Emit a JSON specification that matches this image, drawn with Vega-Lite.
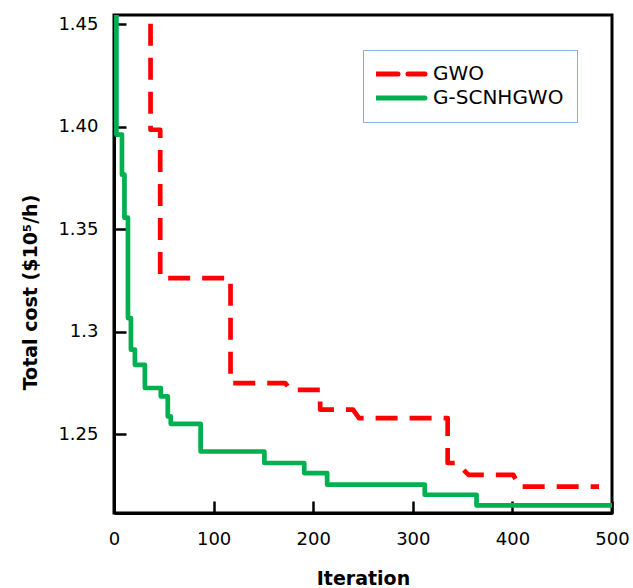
{
  "$schema": "https://vega.github.io/schema/vega-lite/v6.json",
  "width": 498,
  "height": 498,
  "autosize": {"type": "none"},
  "padding": {"left": 114, "top": 15, "right": 21, "bottom": 75},
  "background": "white",
  "config": {
    "view": {"stroke": "black", "strokeWidth": 3},
    "font": "DejaVu Sans"
  },
  "data": {
    "values": [
      {"algo": "GWO", "i": 0, "iter": 36.7, "cost": 1.5},
      {"algo": "GWO", "i": 1, "iter": 36.7, "cost": 1.3985},
      {"algo": "GWO", "i": 2, "iter": 46.4, "cost": 1.3985},
      {"algo": "GWO", "i": 3, "iter": 46.4, "cost": 1.3261},
      {"algo": "GWO", "i": 4, "iter": 117, "cost": 1.3261},
      {"algo": "GWO", "i": 5, "iter": 117, "cost": 1.2749},
      {"algo": "GWO", "i": 6, "iter": 172, "cost": 1.2749},
      {"algo": "GWO", "i": 7, "iter": 177, "cost": 1.2716},
      {"algo": "GWO", "i": 8, "iter": 207, "cost": 1.2716},
      {"algo": "GWO", "i": 9, "iter": 207, "cost": 1.2619},
      {"algo": "GWO", "i": 10, "iter": 240, "cost": 1.2619},
      {"algo": "GWO", "i": 11, "iter": 246, "cost": 1.2578},
      {"algo": "GWO", "i": 12, "iter": 335, "cost": 1.2578},
      {"algo": "GWO", "i": 13, "iter": 335, "cost": 1.2359},
      {"algo": "GWO", "i": 14, "iter": 344, "cost": 1.2359},
      {"algo": "GWO", "i": 15, "iter": 356, "cost": 1.2301},
      {"algo": "GWO", "i": 16, "iter": 401, "cost": 1.2301},
      {"algo": "GWO", "i": 17, "iter": 407, "cost": 1.2244},
      {"algo": "GWO", "i": 18, "iter": 487, "cost": 1.2244},

      {"algo": "G-SCNHGWO", "i": 0, "iter": 2.4, "cost": 1.5},
      {"algo": "G-SCNHGWO", "i": 1, "iter": 2.4, "cost": 1.3961},
      {"algo": "G-SCNHGWO", "i": 2, "iter": 8, "cost": 1.3961},
      {"algo": "G-SCNHGWO", "i": 3, "iter": 8, "cost": 1.3766},
      {"algo": "G-SCNHGWO", "i": 4, "iter": 10.5, "cost": 1.3766},
      {"algo": "G-SCNHGWO", "i": 5, "iter": 10.5, "cost": 1.3556},
      {"algo": "G-SCNHGWO", "i": 6, "iter": 14, "cost": 1.3556},
      {"algo": "G-SCNHGWO", "i": 7, "iter": 14, "cost": 1.3066},
      {"algo": "G-SCNHGWO", "i": 8, "iter": 17, "cost": 1.3066},
      {"algo": "G-SCNHGWO", "i": 9, "iter": 17, "cost": 1.2912},
      {"algo": "G-SCNHGWO", "i": 10, "iter": 21, "cost": 1.2912},
      {"algo": "G-SCNHGWO", "i": 11, "iter": 21, "cost": 1.2838},
      {"algo": "G-SCNHGWO", "i": 12, "iter": 31, "cost": 1.2838},
      {"algo": "G-SCNHGWO", "i": 13, "iter": 31, "cost": 1.2725},
      {"algo": "G-SCNHGWO", "i": 14, "iter": 47, "cost": 1.2725},
      {"algo": "G-SCNHGWO", "i": 15, "iter": 47, "cost": 1.2684},
      {"algo": "G-SCNHGWO", "i": 16, "iter": 54, "cost": 1.2684},
      {"algo": "G-SCNHGWO", "i": 17, "iter": 54, "cost": 1.2586},
      {"algo": "G-SCNHGWO", "i": 18, "iter": 57, "cost": 1.2586},
      {"algo": "G-SCNHGWO", "i": 19, "iter": 57, "cost": 1.2550},
      {"algo": "G-SCNHGWO", "i": 20, "iter": 87, "cost": 1.2550},
      {"algo": "G-SCNHGWO", "i": 21, "iter": 87, "cost": 1.2415},
      {"algo": "G-SCNHGWO", "i": 22, "iter": 151, "cost": 1.2415},
      {"algo": "G-SCNHGWO", "i": 23, "iter": 151, "cost": 1.2359},
      {"algo": "G-SCNHGWO", "i": 24, "iter": 191, "cost": 1.2359},
      {"algo": "G-SCNHGWO", "i": 25, "iter": 191, "cost": 1.2310},
      {"algo": "G-SCNHGWO", "i": 26, "iter": 214, "cost": 1.2310},
      {"algo": "G-SCNHGWO", "i": 27, "iter": 214, "cost": 1.2253},
      {"algo": "G-SCNHGWO", "i": 28, "iter": 312, "cost": 1.2253},
      {"algo": "G-SCNHGWO", "i": 29, "iter": 312, "cost": 1.2204},
      {"algo": "G-SCNHGWO", "i": 30, "iter": 364, "cost": 1.2204},
      {"algo": "G-SCNHGWO", "i": 31, "iter": 364, "cost": 1.2152},
      {"algo": "G-SCNHGWO", "i": 32, "iter": 500, "cost": 1.2152}
    ]
  },
  "encoding": {
    "x": {
      "field": "iter",
      "type": "quantitative",
      "scale": {"domain": [0, 500], "nice": false, "zero": false},
      "axis": {
        "title": "Iteration",
        "values": [0, 100, 200, 300, 400, 500],
        "grid": false,
        "domainColor": "black",
        "domainWidth": 3,
        "tickColor": "black",
        "tickWidth": 2.5,
        "tickSize": -12,
        "labelPadding": 29,
        "labelFlush": false,
        "labelFontSize": 18,
        "labelColor": "black",
        "labelFont": "DejaVu Sans",
        "titleFont": "DejaVu Sans",
        "titleFontSize": 19,
        "titleFontWeight": "bold",
        "titleColor": "black",
        "titlePadding": 21
      }
    },
    "y": {
      "field": "cost",
      "type": "quantitative",
      "scale": {"domain": [1.2115, 1.4545], "nice": false, "zero": false},
      "axis": {
        "title": "Total cost ($10⁵/h)",
        "values": [1.25, 1.3, 1.35, 1.4, 1.45],
        "labelExpr": "abs(datum.value - 1.3) < 0.001 ? '1.3' : format(datum.value, '.2f')",
        "grid": false,
        "domainColor": "black",
        "domainWidth": 3,
        "tickColor": "black",
        "tickWidth": 2.5,
        "tickSize": -12,
        "labelPadding": 28,
        "labelFlush": false,
        "labelFontSize": 18,
        "labelColor": "black",
        "labelFont": "DejaVu Sans",
        "titleFont": "DejaVu Sans",
        "titleFontSize": 19,
        "titleFontWeight": "bold",
        "titleColor": "black",
        "titleX": -84,
        "titleY": 277,
        "titleAngle": -90,
        "titleAlign": "center",
        "titleBaseline": "middle"
      }
    },
    "color": {
      "field": "algo",
      "type": "nominal",
      "scale": {"domain": ["GWO", "G-SCNHGWO"], "range": ["#FF0000", "#00B050"]},
      "legend": {
        "title": null,
        "orient": "none",
        "legendX": 249,
        "legendY": 35,
        "strokeColor": "#8EA9DB",
        "padding": 13,
        "rowPadding": 2,
        "clipHeight": 22,
        "symbolType": "stroke",
        "symbolSize": 2401,
        "symbolOffset": -2.5,
        "symbolStrokeWidth": 5,
        "labelFontSize": 20,
        "labelFont": "DejaVu Sans",
        "labelColor": "black",
        "labelOffset": 5.5,
        "fillColor": "white",
        "encode": {
          "symbols": {
            "update": {
              "strokeDash": {"signal": "datum.value === 'GWO' ? [22, 10] : [1, 0]"},
              "strokeCap": {"value": "round"}
            }
          }
        }
      }
    },
    "order": {"field": "i", "type": "quantitative"}
  },
  "layer": [
    {
      "transform": [{"filter": "datum.algo === 'GWO'"}],
      "mark": {"type": "line", "clip": true, "strokeWidth": 4.7, "strokeCap": "butt", "strokeJoin": "round", "strokeDash": [22, 12]}
    },
    {
      "transform": [{"filter": "datum.algo === 'G-SCNHGWO'"}],
      "mark": {"type": "line", "clip": true, "strokeWidth": 4.7, "strokeCap": "butt", "strokeJoin": "round"}
    }
  ]
}
